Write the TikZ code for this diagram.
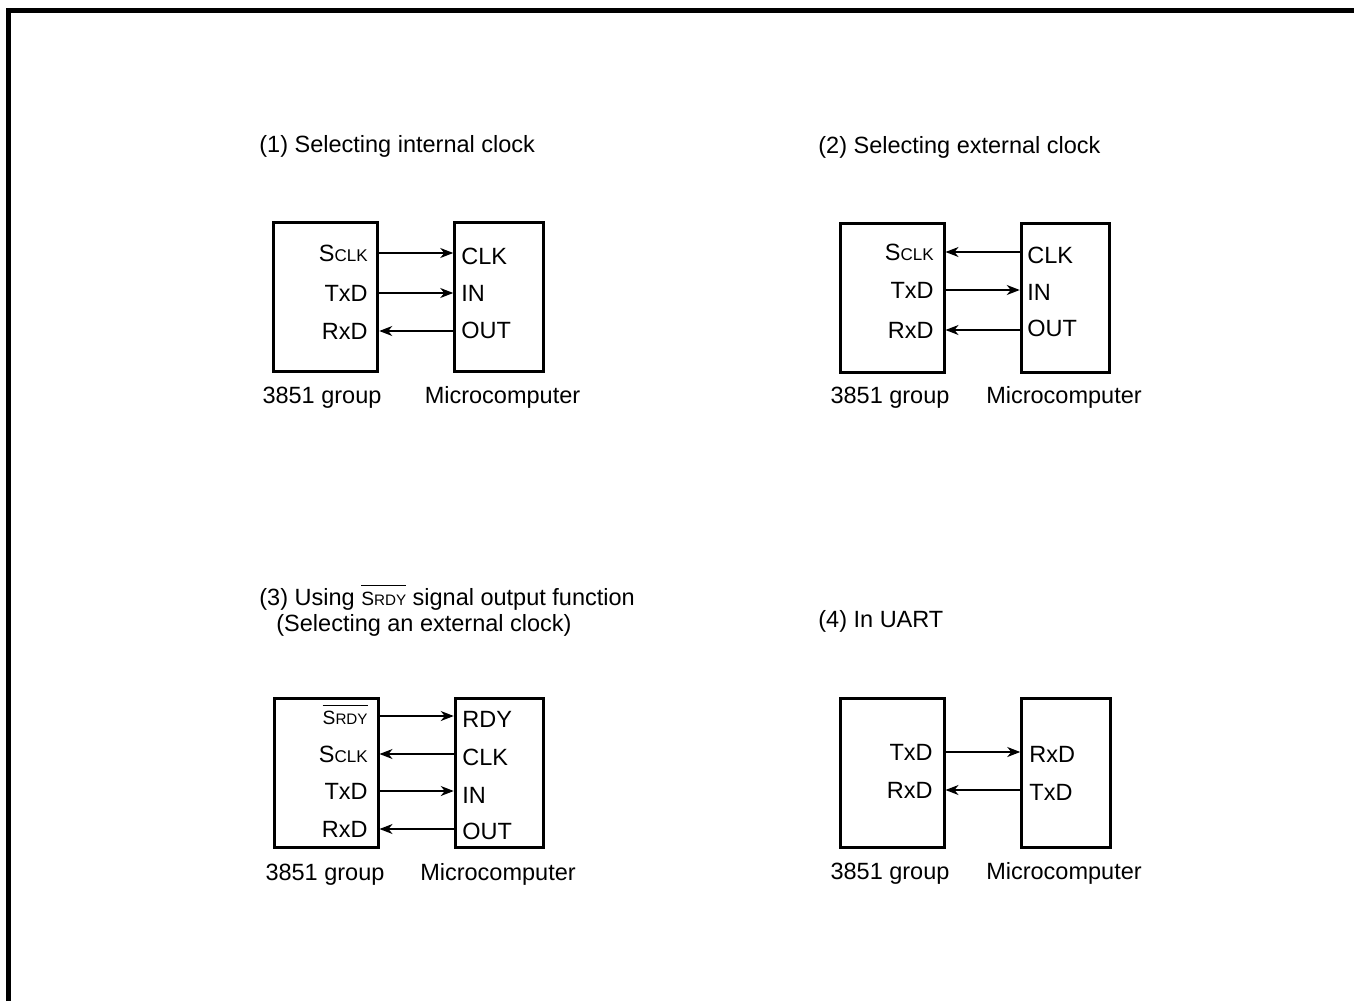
\documentclass[tikz,border=0pt]{standalone}
\usepackage{fontspec}
\setmainfont{Liberation Sans}
\usetikzlibrary{arrows.meta}

\newcommand{\smc}[1]{{\fontsize{8.5pt}{10pt}\selectfont #1}}
\newcommand{\srdy}{\(\overline{\mbox{\rule{0pt}{8.3pt}\fontsize{9.6pt}{11pt}\selectfont S\fontsize{7.6pt}{9pt}\selectfont RDY}}\)}

\begin{document}
\begin{tikzpicture}[x={(0.5pt,0)}, y={(0,-0.5pt)},
    >={Stealth[length=6.5pt,width=5pt,inset=2pt]},
    font=\fontsize{11.75pt}{14pt}\selectfont,
    chip/.style={draw, line width=1.5pt, minimum height=74.5pt, inner sep=0pt},
    grpbox/.style={chip, minimum width=52pt},
    mcbox/.style={chip, minimum width=44.25pt},
    pin/.style={inner sep=0pt, text height=8.4pt, text depth=0pt},
    wire/.style={->, line width=0.65pt},
    heading/.style={anchor=base west, inner sep=0pt},
    caption/.style={anchor=base, inner sep=0pt}]

    \useasboundingbox (0,0) rectangle (1354,1001);
    \draw[line width=2.5pt] (8.5,1001) -- (8.5,10.5) -- (1354,10.5);

    \begin{scope}
        \node[heading] (title1) at (259,152) {(1) Selecting internal clock};

        \node[grpbox] (grp1) at (325.75,297) {};
        \node[mcbox] (mc1) at (499,297) {};

        \node[pin, anchor=east] (sclk1) at (368,253) {S\smc{CLK}};
        \node[pin, anchor=east] (txd1) at (368,293) {TxD};
        \node[pin, anchor=east] (rxd1) at (368,331) {RxD};
        \node[pin, anchor=west] (clk1) at (461,256) {CLK};
        \node[pin, anchor=west] (in1) at (461,293) {IN};
        \node[pin, anchor=west] (out1) at (461,330) {OUT};

        \draw[wire] (grp1.east |- sclk1) -- (mc1.west |- sclk1);
        \draw[wire] (grp1.east |- txd1) -- (mc1.west |- txd1);
        \draw[wire] (mc1.west |- rxd1) -- (grp1.east |- rxd1);

        \node[caption] (group1) at (322,403) {3851 group};
        \node[caption] (micro1) at (502.5,403) {Microcomputer};
    \end{scope}

    \begin{scope}
        \node[heading] (title2) at (818,153) {(2) Selecting external clock};

        \node[grpbox] (grp2) at (892,297.5) {};
        \node[mcbox] (mc2) at (1065.5,297.5) {};

        \node[pin, anchor=east] (sclk2) at (934,252) {S\smc{CLK}};
        \node[pin, anchor=east] (txd2) at (934,290) {TxD};
        \node[pin, anchor=east] (rxd2) at (934,330) {RxD};
        \node[pin, anchor=west] (clk2) at (1027,255) {CLK};
        \node[pin, anchor=west] (in2) at (1027,292) {IN};
        \node[pin, anchor=west] (out2) at (1027,328) {OUT};

        \draw[wire] (mc2.west |- sclk2) -- (grp2.east |- sclk2);
        \draw[wire] (grp2.east |- txd2) -- (mc2.west |- txd2);
        \draw[wire] (mc2.west |- rxd2) -- (grp2.east |- rxd2);

        \node[caption] (group2) at (890,403) {3851 group};
        \node[caption] (micro2) at (1064,403) {Microcomputer};
    \end{scope}

    \begin{scope}
        \node[heading] (title3) at (259,605) {(3) Using \srdy{} signal output function};
        \node[heading] (subtitle3) at (276,631) {(Selecting an external clock)};

        \node[grpbox] (grp3) at (326,773) {};
        \node[mcbox] (mc3) at (499.5,773) {};

        \node[pin, anchor=east] (srdy3) at (368,716) {\srdy};
        \node[pin, anchor=east] (sclk3) at (368,754) {S\smc{CLK}};
        \node[pin, anchor=east] (txd3) at (368,791) {TxD};
        \node[pin, anchor=east] (rxd3) at (368,829) {RxD};
        \node[pin, anchor=west] (rdy3) at (462,719) {RDY};
        \node[pin, anchor=west] (clk3) at (462,757) {CLK};
        \node[pin, anchor=west] (in3) at (462,795) {IN};
        \node[pin, anchor=west] (out3) at (462,831) {OUT};

        \draw[wire] (grp3.east |- srdy3) -- (mc3.west |- srdy3);
        \draw[wire] (mc3.west |- sclk3) -- (grp3.east |- sclk3);
        \draw[wire] (grp3.east |- txd3) -- (mc3.west |- txd3);
        \draw[wire] (mc3.west |- rxd3) -- (grp3.east |- rxd3);

        \node[caption] (group3) at (325,880) {3851 group};
        \node[caption] (micro3) at (498,880) {Microcomputer};
    \end{scope}

    \begin{scope}
        \node[heading] (title4) at (818,627.5) {(4) In UART};

        \node[grpbox] (grp4) at (892,773) {};
        \node[mcbox] (mc4) at (1066,773) {};

        \node[pin, anchor=east] (txd4) at (933,752) {TxD};
        \node[pin, anchor=east] (rxd4) at (933,790) {RxD};
        \node[pin, anchor=west] (mrxd4) at (1029,754) {RxD};
        \node[pin, anchor=west] (mtxd4) at (1029,792) {TxD};

        \draw[wire] (grp4.east |- txd4) -- (mc4.west |- txd4);
        \draw[wire] (mc4.west |- rxd4) -- (grp4.east |- rxd4);

        \node[caption] (group4) at (890,879) {3851 group};
        \node[caption] (micro4) at (1064,879) {Microcomputer};
    \end{scope}
\end{tikzpicture}
\end{document}
